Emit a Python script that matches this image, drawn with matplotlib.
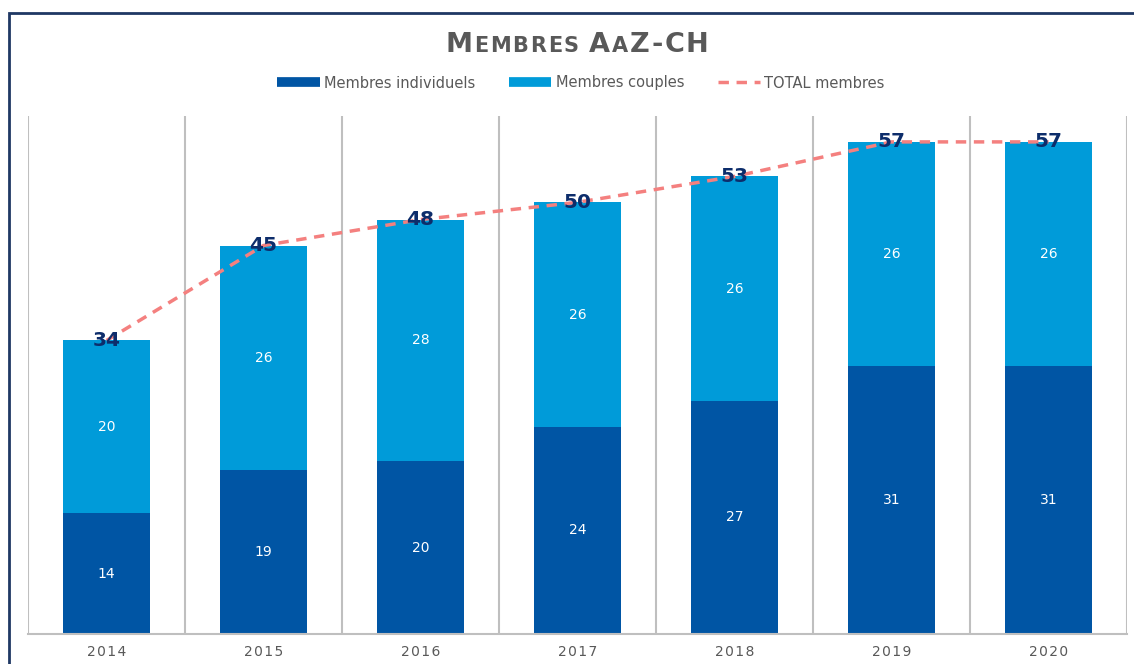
import matplotlib
matplotlib.use("Agg")
import matplotlib.pyplot as plt
from matplotlib.lines import Line2D
from matplotlib.patches import Rectangle
from matplotlib.offsetbox import TextArea, HPacker, AnchoredOffsetbox

years = ["2014", "2015", "2016", "2017", "2018", "2019", "2020"]
individuels = [14, 19, 20, 24, 27, 31, 31]
couples = [20, 26, 28, 26, 26, 26, 26]
totals = [34, 45, 48, 50, 53, 57, 57]

c_ind = "#0055A4"
c_cou = "#009BD9"
c_tot = "#F4807F"
c_lab = "#0D2D6B"
c_txt = "#595959"

plt.rcParams["font.family"] = ["DejaVu Sans"]

fig = plt.figure(figsize=(11.34, 6.64), dpi=100)
ax = fig.add_axes([28/1134, 30/664, (1127-28)/1134, (634-116)/664])

x = list(range(len(years)))
w = 0.56
ax.bar(x, individuels, width=w, color=c_ind, zorder=2)
ax.bar(x, couples, width=w, bottom=individuels, color=c_cou, zorder=2)
ax.plot(x, totals, color=c_tot, lw=2.5, dashes=(3, 2.2), zorder=3)

for i in x:
    ax.text(i, individuels[i] / 2, str(individuels[i]), color="white",
            ha="center", va="center", fontsize=10, zorder=4)
    ax.text(i, individuels[i] + couples[i] / 2, str(couples[i]), color="white",
            ha="center", va="center", fontsize=10, zorder=4)
    ax.text(i, totals[i], str(totals[i]), color=c_lab, ha="center", va="center",
            fontsize=14.5, fontweight="bold", zorder=5)

ax.set_xlim(-0.5, len(years) - 0.5)
ax.set_ylim(0, 60)
ax.set_yticks([])
ax.set_xticks(x)
ax.set_xticklabels(["\u200a".join(y) for y in years], color=c_txt, fontsize=10)
ax.tick_params(axis="x", length=0, pad=8)
for b in [i - 0.5 for i in range(len(years) + 1)]:
    ax.axvline(b, color="#BFBFBF", lw=1.5, zorder=1)
for s in ["top", "left", "right"]:
    ax.spines[s].set_visible(False)
ax.spines["bottom"].set_color("#BFBFBF")
ax.spines["bottom"].set_linewidth(1.5)

# title in small caps, letter-spaced
big = dict(color=c_txt, fontsize=19.5, fontweight="heavy")
small = dict(color=c_txt, fontsize=15, fontweight="heavy")
parts = [("M", big)] + [(ch, small) for ch in "EMBRES"] + [(" ", small), ("A", big), ("A", small)] + [(ch, big) for ch in "Z-CH"]
boxes = [TextArea(t, textprops=p) for t, p in parts]
pack = HPacker(children=boxes, align="baseline", pad=0, sep=1.2)
ab = AnchoredOffsetbox(loc="center", child=pack, frameon=False,
                       bbox_to_anchor=(577/1134, 1 - 45/664),
                       bbox_transform=fig.transFigure, borderpad=0, pad=0)
fig.add_artist(ab)

handles = [Line2D([], [], color=c_ind, lw=7, solid_capstyle="butt"),
           Line2D([], [], color=c_cou, lw=7, solid_capstyle="butt"),
           Line2D([], [], color=c_tot, lw=2.5, dashes=(3, 2.2))]
labels = ["Membres individuels", "Membres couples", "TOTAL membres"]
fig.legend(handles, labels, loc="center", bbox_to_anchor=(581/1134, 1 - 83/664),
           ncol=3, frameon=False, fontsize=10.5, handlelength=2.9,
           columnspacing=2.3, handletextpad=0.3, labelcolor=c_txt)

fig.add_artist(Rectangle((9/1134, -0.1), 1.2, 1 - 13/664 + 0.1,
                         transform=fig.transFigure, fill=False,
                         edgecolor="#1F3864", lw=2))

fig.savefig("out.png", dpi=100)
